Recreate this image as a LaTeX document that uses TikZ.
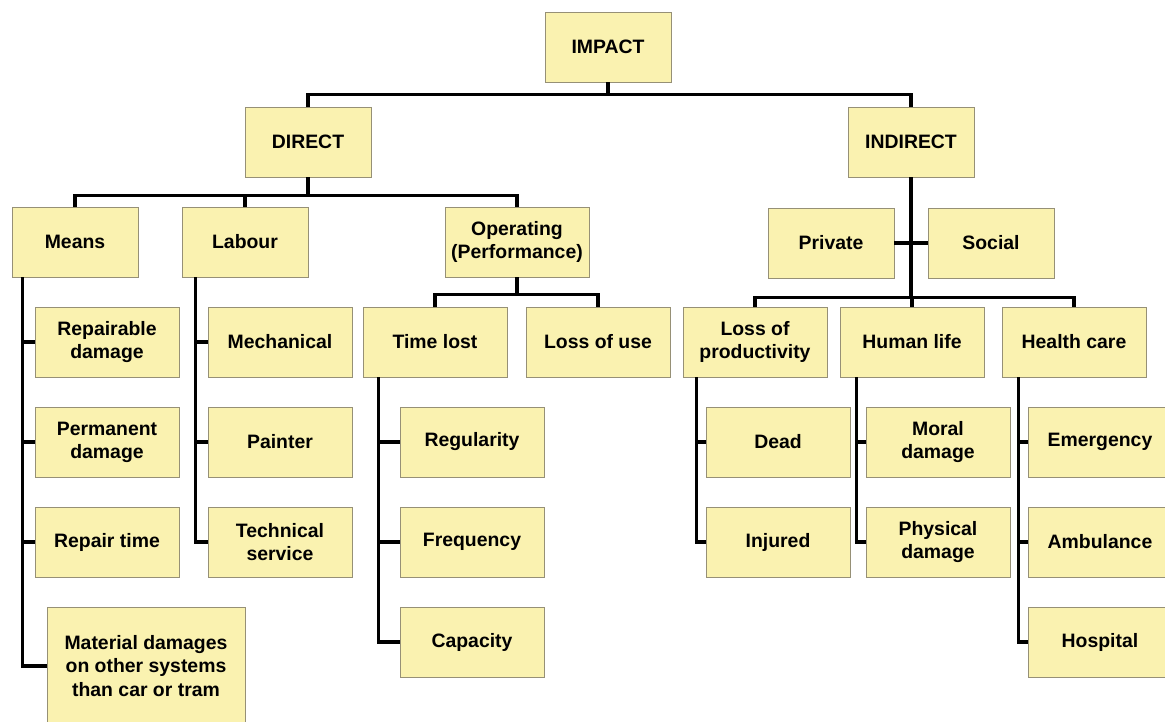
\documentclass[tikz,border=0pt]{standalone}
\usepackage{fontspec}
\setmainfont{Liberation Sans}
\usepackage{tikz}
\usetikzlibrary{positioning}
\definecolor{boxyellow}{RGB}{250,242,176}
\definecolor{boxedge}{RGB}{150,144,118}
\tikzstyle{item} = [rectangle, draw=boxedge, fill=boxyellow, line width=0.6pt, minimum width=3.6cm, minimum height=1.75cm, align=center, inner sep=2pt, font=\bfseries\fontsize{13.8}{16.5}\selectfont]
\tikzstyle{head} = [item, minimum width=3.15cm]
\tikzstyle{link} = [line width=2.2pt, black]

\begin{document}
\begin{tikzpicture}[x=0.025cm, y=-0.025cm]
\useasboundingbox (0,0) rectangle (1165,722);
% Nodes
\node[head] (impact) at (608,47) {IMPACT};
\node[head] (direct) at (308,142) {DIRECT};
\node[head] (indirect) at (911,142) {INDIRECT};

\node[head] (means) at (75,242) {Means};
\node[head] (labour) at (245,242) {Labour};
\node[item] (operating) at (517,242) {Operating\\(Performance)};
\node[head] (private) at (831,243) {Private};
\node[head] (social) at (991,243) {Social};

\node[item] (repairable) at (107,342) {Repairable\\damage};
\node[item] (permanent) at (107,442) {Permanent\\damage};
\node[item] (repairtime) at (107,542) {Repair time};
\node[item, minimum width=4.95cm, minimum height=2.95cm] (material) at (146,666) {Material damages\\on other systems\\than car or tram};

\node[item] (mechanical) at (280,342) {Mechanical};
\node[item] (painter) at (280,442) {Painter};
\node[item] (technical) at (280,542) {Technical\\service};

\node[item] (timelost) at (435,342) {Time lost};
\node[item] (lossofuse) at (598,342) {Loss of use};
\node[item] (regularity) at (472,442) {Regularity};
\node[item] (frequency) at (472,542) {Frequency};
\node[item] (capacity) at (472,642) {Capacity};

\node[item] (lossprod) at (755,342) {Loss of\\productivity};
\node[item] (humanlife) at (912,342) {Human life};
\node[item] (healthcare) at (1074,342) {Health care};
\node[item] (dead) at (778,442) {Dead};
\node[item] (injured) at (778,542) {Injured};
\node[item] (moral) at (938,442) {Moral\\damage};
\node[item] (physical) at (938,542) {Physical\\damage};
\node[item] (emergency) at (1100,442) {Emergency};
\node[item] (ambulance) at (1100,542) {Ambulance};
\node[item] (hospital) at (1100,642) {Hospital};

% Branches
\draw[link] (impact.south) -- ++(0,12) -| (direct.north);
\draw[link] (impact.south) -- ++(0,12) -| (indirect.north);
\foreach \c in {means,labour,operating}
  \draw[link] (direct.south) -- ++(0,18) -| (\c.north);
\foreach \c in {timelost,lossofuse}
  \draw[link] (operating.south) -- ++(0,17) -| (\c.north);
\foreach \c in {lossprod,humanlife,healthcare}
  \draw[link] (indirect.south) -- ++(0,120) -| (\c.north);
\draw[link] (private.east) -- (social.west);

% Trunks
\foreach \c in {repairable,permanent,repairtime,material}
  \draw[link] ([xshift=0.275cm]means.south west) |- (\c.west);
\foreach \c in {mechanical,painter,technical}
  \draw[link] ([xshift=0.35cm]labour.south west) |- (\c.west);
\foreach \c in {regularity,frequency,capacity}
  \draw[link] ([xshift=0.4cm]timelost.south west) |- (\c.west);
\foreach \c in {dead,injured}
  \draw[link] ([xshift=0.35cm]lossprod.south west) |- (\c.west);
\foreach \c in {moral,physical}
  \draw[link] ([xshift=0.425cm]humanlife.south west) |- (\c.west);
\foreach \c in {emergency,ambulance,hospital}
  \draw[link] ([xshift=0.425cm]healthcare.south west) |- (\c.west);
\end{tikzpicture}
\end{document}
